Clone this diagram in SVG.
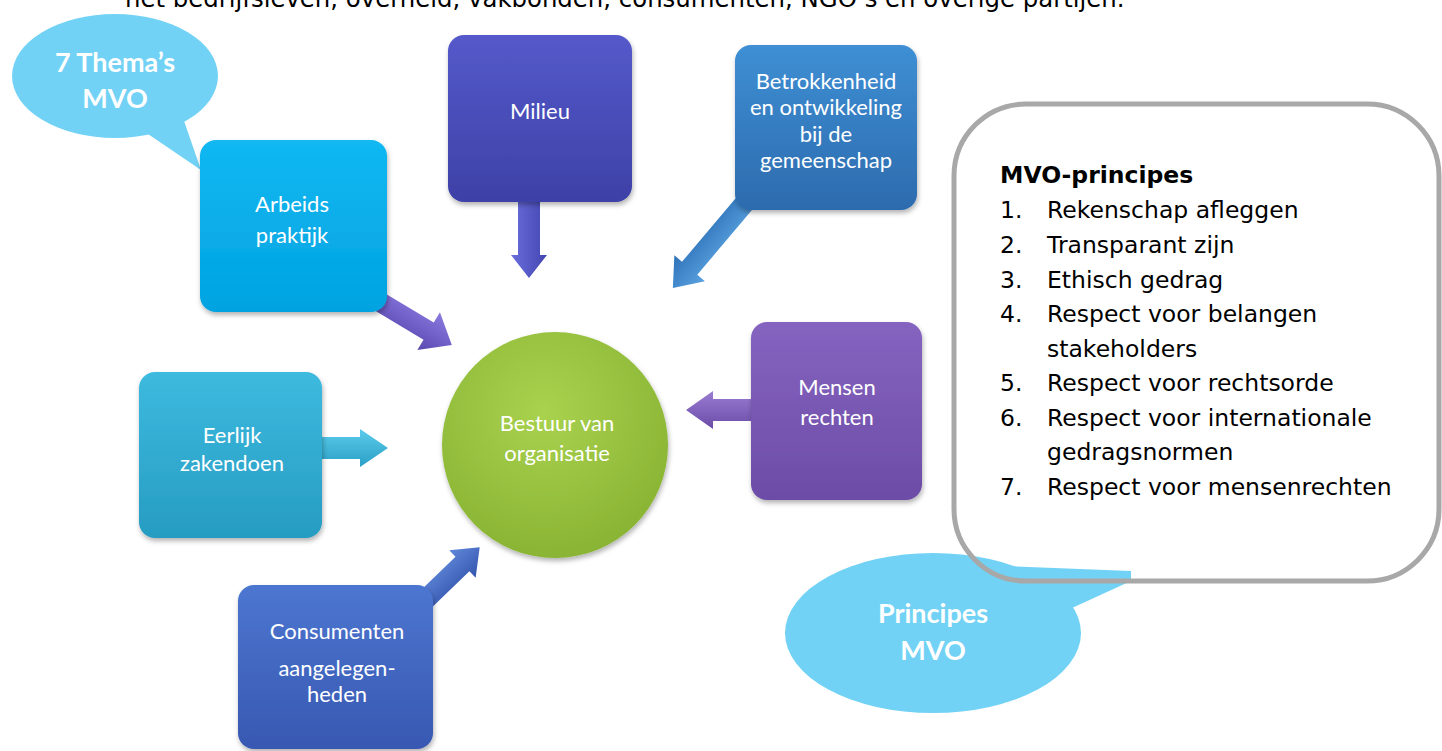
<svg xmlns="http://www.w3.org/2000/svg" width="1442" height="751" viewBox="0 0 1442 751">
<defs>
  <filter id="sh" x="-15%" y="-15%" width="135%" height="135%">
    <feDropShadow dx="1" dy="3" stdDeviation="2.5" flood-color="#000" flood-opacity="0.3"/>
  </filter>
  <linearGradient id="gArb" x1="0" y1="0" x2="0" y2="1"><stop offset="0" stop-color="#12B8F2"/><stop offset="1" stop-color="#00A3E0"/></linearGradient>
  <linearGradient id="gMil" x1="0" y1="0" x2="0" y2="1"><stop offset="0" stop-color="#5559CA"/><stop offset="1" stop-color="#3D41A6"/></linearGradient>
  <linearGradient id="gBet" x1="0" y1="0" x2="0" y2="1"><stop offset="0" stop-color="#3F8FD4"/><stop offset="1" stop-color="#2C6BAE"/></linearGradient>
  <linearGradient id="gEer" x1="0" y1="0" x2="0" y2="1"><stop offset="0" stop-color="#3DBADF"/><stop offset="1" stop-color="#279CC2"/></linearGradient>
  <linearGradient id="gMen" x1="0" y1="0" x2="0" y2="1"><stop offset="0" stop-color="#8564C0"/><stop offset="1" stop-color="#6C4CA6"/></linearGradient>
  <linearGradient id="gCon" x1="0" y1="0" x2="0" y2="1"><stop offset="0" stop-color="#4C76D0"/><stop offset="1" stop-color="#3858B2"/></linearGradient>
  <radialGradient id="gCir" cx="0.45" cy="0.35" r="0.7"><stop offset="0" stop-color="#A9D24E"/><stop offset="1" stop-color="#87B232"/></radialGradient>
  <linearGradient id="aArb" x1="0" y1="0" x2="0" y2="1"><stop offset="0" stop-color="#8A7AE0"/><stop offset="1" stop-color="#5A48B0"/></linearGradient>
  <linearGradient id="aMil" x1="0" y1="0" x2="0" y2="1"><stop offset="0" stop-color="#4346B0"/><stop offset="1" stop-color="#6A6EDC"/></linearGradient>
  <linearGradient id="aBet" x1="0" y1="0" x2="0" y2="1"><stop offset="0" stop-color="#5AA2E0"/><stop offset="1" stop-color="#2E72B8"/></linearGradient>
  <linearGradient id="aEer" x1="0" y1="0" x2="0" y2="1"><stop offset="0" stop-color="#5CCCEA"/><stop offset="1" stop-color="#2A9FC6"/></linearGradient>
  <linearGradient id="aMen" x1="0" y1="0" x2="0" y2="1"><stop offset="0" stop-color="#6A4CA8"/><stop offset="1" stop-color="#9A7CD2"/></linearGradient>
  <linearGradient id="aCon" x1="0" y1="0" x2="0" y2="1"><stop offset="0" stop-color="#6088DA"/><stop offset="1" stop-color="#3556AE"/></linearGradient>
</defs>
<style>
  .t { font-family: Lato, "Open Sans", sans-serif; font-size: 22px; fill: #ffffff; text-anchor: middle; }
  .bt { font-family: Lato, "Open Sans", sans-serif; font-weight: 700; font-size: 27px; fill: #ffffff; text-anchor: middle; }
  .v { font-family: "DejaVu Sans", Verdana, sans-serif; font-size: 23.5px; fill: #000000; }
  .vb { font-weight: 700; }
  .top { font-size: 24.4px; }
  .bub { fill: #72D2F5; }
  .box { filter: url(#sh); }
</style>
<rect x="0" y="0" width="1442" height="751" fill="#ffffff"/>

<text class="v top" x="125" y="7">het bedrijfsleven, overheid, vakbonden, consumenten, NGO’s en overige partijen.</text>

<g id="bubble-themas">
  <ellipse class="bub" cx="115" cy="76" rx="103" ry="62"/>
  <polygon class="bub" points="145,132 201,170 183,118"/>
  <text class="bt" x="115" y="72">7 Thema’s</text>
  <text class="bt" x="115" y="108">MVO</text>
</g>

<g id="connectors">
  <polygon fill="url(#aMil)" transform="translate(529,195) rotate(90)" points="0,-11 60,-11 60,-18 83,0 60,18 60,11 0,11"/>
  <polygon fill="url(#aBet)" transform="translate(760,185) rotate(130.2)" points="0,-10 109,-10 109,-20 135,0 109,20 109,10 0,10"/>
  <polygon fill="url(#aArb)" transform="translate(360,290) rotate(30.9)" points="0,-10 80,-10 80,-22 107,0 80,22 80,10 0,10"/>
  <polygon fill="url(#aEer)" transform="translate(315,448)" points="0,-11 45,-11 45,-19 73,0 45,19 45,11 0,11"/>
  <polygon fill="url(#aMen)" transform="translate(760,410) rotate(180)" points="0,-11 47,-11 47,-19 74,0 47,19 47,11 0,11"/>
  <polygon fill="url(#aCon)" transform="translate(420,605) rotate(-44)" points="0,-10 59,-10 59,-19 83,0 59,19 59,10 0,10"/>
</g>

<g id="arbeids">
  <rect class="box" x="200" y="140" width="187" height="172" rx="16" fill="url(#gArb)"/>
  <text class="t" x="292" y="212">Arbeids</text>
  <text class="t" x="292" y="243">praktijk</text>
</g>

<g id="milieu">
  <rect class="box" x="448" y="35" width="184" height="167" rx="16" fill="url(#gMil)"/>
  <text class="t" x="540" y="119">Milieu</text>
</g>

<g id="betrokkenheid">
  <rect class="box" x="735" y="45" width="182" height="165" rx="16" fill="url(#gBet)"/>
  <text class="t" x="826" y="89">Betrokkenheid</text>
  <text class="t" x="826" y="115">en ontwikkeling</text>
  <text class="t" x="826" y="142">bij de</text>
  <text class="t" x="826" y="168">gemeenschap</text>
</g>

<g id="eerlijk">
  <rect class="box" x="139" y="372" width="183" height="166" rx="16" fill="url(#gEer)"/>
  <text class="t" x="232" y="443">Eerlijk</text>
  <text class="t" x="232" y="471">zakendoen</text>
</g>

<g id="bestuur">
  <circle class="box" cx="555" cy="445" r="113" fill="url(#gCir)"/>
  <text class="t" x="557" y="431">Bestuur van</text>
  <text class="t" x="557" y="461">organisatie</text>
</g>

<g id="mensenrechten">
  <rect class="box" x="751" y="322" width="171" height="178" rx="16" fill="url(#gMen)"/>
  <text class="t" x="837" y="395">Mensen</text>
  <text class="t" x="837" y="425">rechten</text>
</g>

<g id="consumenten">
  <rect class="box" x="238" y="585" width="195" height="164" rx="16" fill="url(#gCon)"/>
  <text class="t" x="337" y="639">Consumenten</text>
  <text class="t" x="337" y="676">aangelegen-</text>
  <text class="t" x="337" y="702">heden</text>
</g>

<g id="bubble-principes">
  <ellipse class="bub" cx="933" cy="633" rx="148" ry="80"/>
  <polygon class="bub" points="1005,566 1131,571 1131,581 1072,608"/>
  <text class="bt" x="933" y="623">Principes</text>
  <text class="bt" x="933" y="660">MVO</text>
</g>

<g id="principes-kader">
  <rect x="954" y="104" width="485" height="477" rx="72" fill="none" stroke="#A8A8A8" stroke-width="5"/>
  <text class="v vb" x="1000" y="183">MVO-principes</text>
  <text class="v" x="1000" y="218">1.</text><text class="v" x="1047" y="218">Rekenschap afleggen</text>
  <text class="v" x="1000" y="253">2.</text><text class="v" x="1047" y="253">Transparant zijn</text>
  <text class="v" x="1000" y="288">3.</text><text class="v" x="1047" y="288">Ethisch gedrag</text>
  <text class="v" x="1000" y="322">4.</text><text class="v" x="1047" y="322">Respect voor belangen</text>
  <text class="v" x="1047" y="357">stakeholders</text>
  <text class="v" x="1000" y="391">5.</text><text class="v" x="1047" y="391">Respect voor rechtsorde</text>
  <text class="v" x="1000" y="426">6.</text><text class="v" x="1047" y="426">Respect voor internationale</text>
  <text class="v" x="1047" y="460">gedragsnormen</text>
  <text class="v" x="1000" y="495">7.</text><text class="v" x="1047" y="495">Respect voor mensenrechten</text>
</g>
</svg>
